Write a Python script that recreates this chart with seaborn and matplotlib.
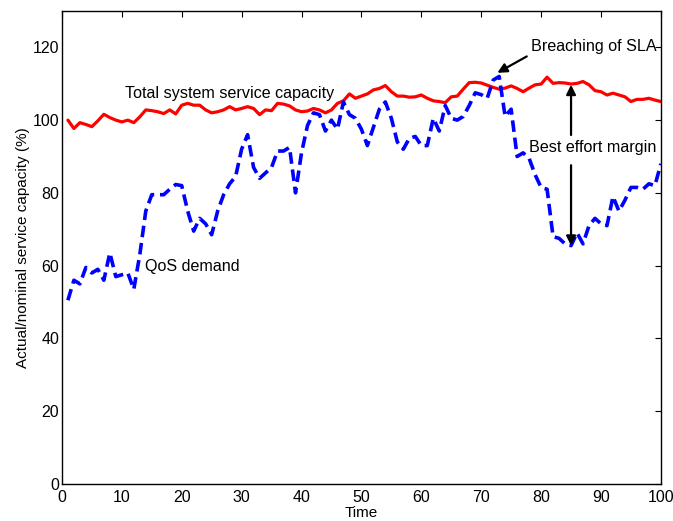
import numpy as np
import pandas as pd
import matplotlib
matplotlib.use('Agg')
import matplotlib.pyplot as plt
import seaborn as sns

# Values
time = list(range(1, 101))

capacity = [100, 97.7, 99.3, 98.8, 98.2, 99.8, 101.6, 100.7, 100, 99.5,
            100, 99.3, 100.9, 102.8, 102.6, 102.3, 101.8, 102.8, 101.7, 104.1,
            104.6, 104.1, 104.1, 102.8, 102, 102.3, 102.8, 103.7, 102.8, 103.2,
            103.7, 103.2, 101.5, 102.8, 102.6, 104.6, 104.4, 103.9, 102.8, 102.3,
            102.5, 103.2, 102.8, 102, 102.8, 104.6, 105.3, 107.2, 106, 106.6,
            107.2, 108.3, 108.7, 109.5, 107.8, 106.6, 106.6, 106.3, 106.4, 106.9,
            106, 105.3, 105.1, 104.8, 106.4, 106.6, 108.5, 110.3, 110.4, 110.2,
            109.6, 109, 108.5, 108.8, 109.4, 108.7, 107.8, 108.8, 109.7, 109.9,
            111.8, 110.1, 110.3, 110.2, 109.9, 110.1, 110.6, 109.7, 108.1, 107.8,
            106.9, 107.4, 106.9, 106.4, 105.1, 105.7, 105.7, 106, 105.5, 105.1]

demand = [50.5, 56, 55, 59.5, 58, 59, 56, 63.5, 57, 57.5,
          58, 53.5, 63, 75, 79.5, 79.5, 79.5, 81, 82.3, 82,
          75, 69.5, 73, 71.5, 68.5, 75, 79.5, 82.5, 84.5, 92,
          96, 87, 84, 85.5, 87, 91.5, 91.5, 92.5, 80, 91,
          98.5, 102, 101.5, 97, 100, 97.5, 105, 101.5, 100.5, 97.5,
          93, 98, 103, 105, 100.5, 94, 92, 95, 95.5, 93,
          93, 100.5, 97, 104, 100.5, 100, 101, 104, 107.5, 107,
          106, 111, 112, 101, 103, 90, 91, 89.5, 85, 81.5,
          81, 68, 67.5, 66, 65.5, 69, 66, 71, 73, 71.5,
          71, 79, 75, 78, 81.5, 81.5, 81, 82.5, 82, 88]

df = pd.DataFrame({'time': time, 'capacity': capacity, 'demand': demand})

sns.set_style('white')
plt.rcParams['font.family'] = ['Liberation Sans', 'DejaVu Sans']
plt.rcParams['text.color'] = 'black'
plt.rcParams['axes.labelcolor'] = 'black'

fig = plt.figure(figsize=(6.73, 5.21), dpi=100)
ax = fig.add_axes([0.092, 0.071, 0.89, 0.908])

sns.lineplot(data=df, x='time', y='capacity', ax=ax, color='#ff0000', linewidth=2.3)
sns.lineplot(data=df, x='time', y='demand', ax=ax, color='#0000ff', linewidth=2.6)
ax.lines[1].set_dashes((3.2, 1.6))

ax.set_xlim(0, 100)
ax.set_ylim(0, 130)
ax.set_xticks(range(0, 101, 10))
ax.set_yticks(range(0, 121, 20))
ax.tick_params(direction='in', top=True, right=True, length=4, width=0.8,
               labelsize=11.5, colors='black', pad=2)
ax.tick_params(axis='x', pad=4)
for sp in ax.spines.values():
    sp.set_color('black')
    sp.set_linewidth(1.0)

ax.set_xlabel('Time', fontsize=11, labelpad=1)
ax.set_ylabel('Actual/nominal service capacity (%)', fontsize=11, labelpad=2)

# annotations
ax.text(10.5, 107.4, 'Total system service capacity', fontsize=11.6, va='center')
ax.text(13.9, 59.7, 'QoS demand', fontsize=11.6, va='center')
ax.text(78.3, 120.1, 'Breaching of SLA', fontsize=11.6, va='center')
ax.text(77.9, 92.5, 'Best effort margin', fontsize=11.6, va='center')

arrow = dict(arrowstyle='-|>', color='black', lw=1.6, mutation_scale=14,
             shrinkA=0, shrinkB=0)
ax.annotate('', xy=(72.7, 113), xytext=(77.6, 117.5), arrowprops=arrow)
ax.annotate('', xy=(85, 109.7), xytext=(85, 95.9), arrowprops=arrow)
ax.annotate('', xy=(85, 65.5), xytext=(85, 87.6), arrowprops=arrow)

fig.savefig('out.png', dpi=100)
